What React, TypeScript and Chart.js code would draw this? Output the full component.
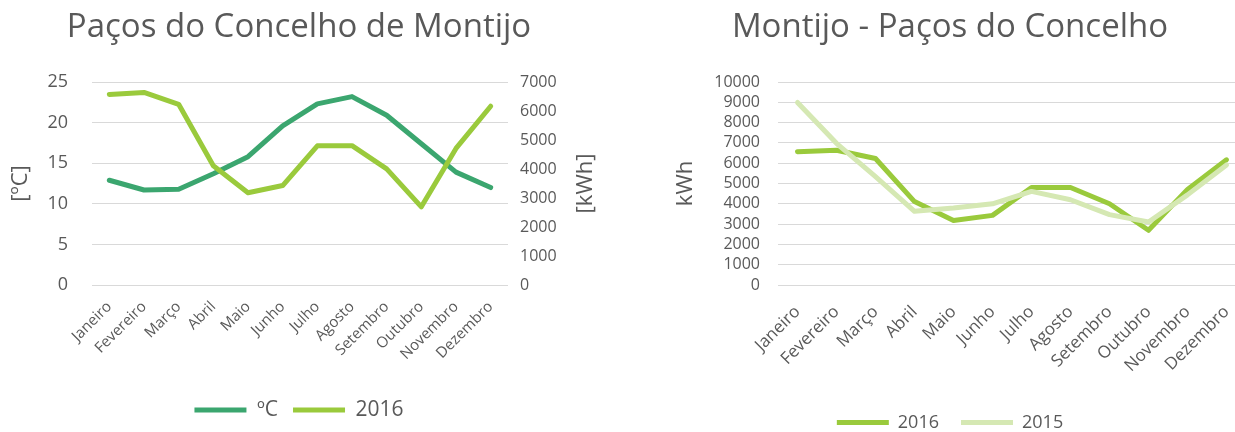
import React, { useEffect, useRef } from "react";
import { Chart, registerables } from "chart.js";

Chart.register(...registerables);

// ---------- data ----------
const months = [
  "Janeiro", "Fevereiro", "Março", "Abril", "Maio", "Junho",
  "Julho", "Agosto", "Setembro", "Outubro", "Novembro", "Dezembro",
];
const tempC = [12.9, 11.7, 11.8, 13.7, 15.8, 19.6, 22.3, 23.2, 20.9, 17.4, 13.9, 12.0];
const kwh2016 = [6570, 6640, 6230, 4110, 3180, 3430, 4800, 4805, 4005, 2695, 4710, 6165];
const kwh2015 = [8990, 6980, 5340, 3630, 3790, 4000, 4610, 4200, 3465, 3105, 4440, 5915];

const leftTitle = "Paços do Concelho de Montijo";
const rightTitle = "Montijo - Paços do Concelho";
const tempLabel = "ºC";
const label2016 = "2016";
const label2015 = "2015";
const tempAxisTitle = "[ºC]";
const kwhAxisTitleLeft = "[kWh]";
const kwhAxisTitleRight = "kWh";
const tempAxisRange = [0, 25, 5]; // min, max, step
const kwhAxisRangeLeft = [0, 7000, 1000];
const kwhAxisRangeRight = [0, 10000, 1000];

// ---------- styles ----------
const FONT = "'Open Sans', 'Noto Sans', sans-serif";
const TEXT = "#595959";
const GRID = "#d9d9d9";
const C_TEMP = "#3ba66f";
const C_2016 = "#9aca3c";
const C_2015 = "#d5e8b3";

const plainNumber = (v: any) => String(v);

const lineStyle = (color: string) => ({
  borderColor: color,
  backgroundColor: color,
  borderWidth: 5,
  pointRadius: 0,
  pointHoverRadius: 0,
  borderCapStyle: "round" as const,
  borderJoinStyle: "round" as const,
  tension: 0,
  fill: false,
});

const rightTitlePlugin = {
  id: "rightTitle",
  afterDraw(chart: any) {
    const opts = chart.options.plugins?.rightTitle;
    if (!opts || !opts.text) return;
    const { ctx, chartArea } = chart;
    ctx.save();
    ctx.font = `normal ${opts.size}px ${FONT}`;
    ctx.fillStyle = TEXT;
    ctx.textAlign = "center";
    ctx.textBaseline = "middle";
    ctx.translate(opts.x, (chartArea.top + chartArea.bottom) / 2);
    ctx.rotate(-Math.PI / 2);
    ctx.fillText(opts.text, 0, 0);
    ctx.restore();
  },
};

function useChart(ref: React.RefObject<HTMLCanvasElement>, makeConfig: () => any) {
  useEffect(() => {
    if (!ref.current) return;
    const chart = new Chart(ref.current, makeConfig());
    return () => chart.destroy();
  }, []);
}

const legendSort = (a: any, b: any) => a.datasetIndex - b.datasetIndex;

const titleOpts = (text: string) => ({
  display: true,
  text,
  color: TEXT,
  font: { family: FONT, size: 33, weight: "normal" },
  padding: { top: 8, bottom: 34.4 },
});

function LeftChart() {
  const ref = useRef<HTMLCanvasElement>(null);
  useChart(ref, () => ({
    type: "line",
    data: {
      labels: months,
      datasets: [
        { label: tempLabel, data: tempC, yAxisID: "y", order: 1, ...lineStyle(C_TEMP) },
        { label: label2016, data: kwh2016, yAxisID: "y1", order: 0, ...lineStyle(C_2016) },
      ],
    },
    plugins: [rightTitlePlugin],
    options: {
      responsive: false,
      animation: false,
      layout: { padding: { left: 0, right: 22, top: 0, bottom: 1.5 } },
      plugins: {
        rightTitle: { text: kwhAxisTitleLeft, x: 586, size: 22 },
        title: titleOpts(leftTitle),
        legend: {
          position: "bottom",
          labels: {
            usePointStyle: true,
            pointStyle: "line",
            pointStyleWidth: 52,
            color: TEXT,
            font: { family: FONT, size: 21 },
            padding: 15,
            sort: legendSort,
          },
        },
        tooltip: { enabled: false },
      },
      scales: {
        x: {
          offset: true,
          grid: { display: false, drawTicks: false },
          border: { display: false },
          ticks: {
            autoSkip: false,
            minRotation: 45,
            maxRotation: 45,
            color: TEXT,
            padding: 13,
            font: { family: FONT, size: 15 },
          },
          afterFit: (s: any) => { s.height = 99.5; },
        },
        y: {
          position: "left",
          min: tempAxisRange[0],
          max: tempAxisRange[1],
          ticks: {
            stepSize: tempAxisRange[2], padding: 24, color: TEXT, autoSkip: false,
            font: { family: FONT, size: 18 }, callback: plainNumber,
          },
          grid: { color: GRID, lineWidth: 1, drawTicks: false },
          border: { display: false },
          title: {
            display: true,
            text: tempAxisTitle,
            color: TEXT,
            font: { family: FONT, size: 22 },
            padding: { top: 8, bottom: 0 },
          },
          afterFit: (s: any) => { s.width = 92; },
        },
        y1: {
          position: "right",
          min: kwhAxisRangeLeft[0],
          max: kwhAxisRangeLeft[1],
          ticks: {
            stepSize: kwhAxisRangeLeft[2], padding: 12, color: TEXT, autoSkip: false,
            font: { family: FONT, size: 16 }, callback: plainNumber,
          },
          grid: { display: false, drawTicks: false },
          border: { display: false },
          afterFit: (s: any) => { s.width = 90; },
        },
      },
    },
  }));
  return (
    <canvas
      ref={ref}
      width={620}
      height={432}
      style={{ position: "absolute", left: 0, top: 0, width: 620, height: 432 }}
    />
  );
}

function RightChart() {
  const ref = useRef<HTMLCanvasElement>(null);
  useChart(ref, () => ({
    type: "line",
    data: {
      labels: months,
      datasets: [
        { label: label2016, data: kwh2016, order: 1, ...lineStyle(C_2016) },
        { label: label2015, data: kwh2015, order: 0, ...lineStyle(C_2015) },
      ],
    },
    options: {
      responsive: false,
      animation: false,
      layout: { padding: { left: 34, right: 34, top: 0, bottom: 3.5 } },
      plugins: {
        title: titleOpts(rightTitle),
        legend: {
          position: "bottom",
          labels: {
            usePointStyle: true,
            pointStyle: "line",
            pointStyleWidth: 52,
            color: TEXT,
            font: { family: FONT, size: 18 },
            padding: 22,
            sort: legendSort,
          },
        },
        tooltip: { enabled: false },
      },
      scales: {
        x: {
          offset: true,
          grid: { display: false, drawTicks: false },
          border: { display: false },
          ticks: {
            autoSkip: false,
            minRotation: 45,
            maxRotation: 45,
            color: TEXT,
            padding: 17,
            font: { family: FONT, size: 17 },
          },
          afterFit: (s: any) => { s.height = 106.5; },
        },
        y: {
          position: "left",
          min: kwhAxisRangeRight[0],
          max: kwhAxisRangeRight[1],
          ticks: {
            stepSize: kwhAxisRangeRight[2], padding: 18, color: TEXT, autoSkip: false,
            font: { family: FONT, size: 16 }, callback: plainNumber,
          },
          grid: { color: GRID, lineWidth: 1, drawTicks: false },
          border: { display: false },
          title: {
            display: true,
            text: kwhAxisTitleRight,
            color: TEXT,
            font: { family: FONT, size: 22 },
            padding: { top: 19, bottom: 0 },
          },
          afterFit: (s: any) => { s.width = 124; },
        },
      },
    },
  }));
  return (
    <canvas
      ref={ref}
      width={660}
      height={445}
      style={{ position: "absolute", left: 620, top: 0, width: 660, height: 445 }}
    />
  );
}

export default function App() {
  return (
    <div
      style={{
        position: "absolute",
        left: 0,
        top: 0,
        width: 1235,
        height: 432,
        overflow: "hidden",
        background: "#ffffff",
      }}
    >
      <LeftChart />
      <RightChart />
    </div>
  );
}
